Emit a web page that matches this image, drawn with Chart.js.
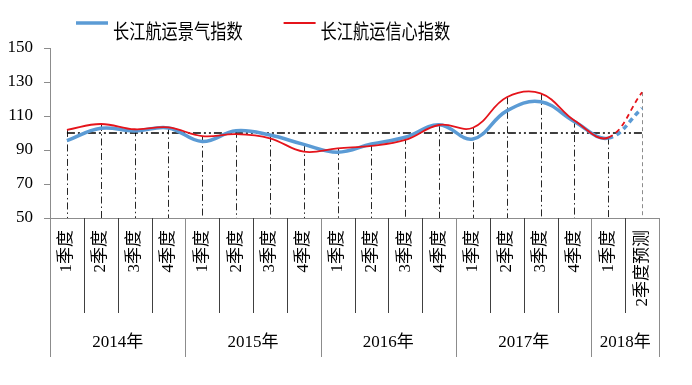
<!DOCTYPE html>
<html>
<head>
<meta charset="utf-8">
<script src="https://cdn.jsdelivr.net/npm/chart.js@4"></script>
<style>
  body { margin: 0; background: #fff; }
  #kutu { position: relative; width: 692px; height: 385px; }
</style>
</head>
<body>
<div id="kutu"><canvas id="grafik"></canvas></div>
<script>
// ── DATA ──
const quarters = [
  '1季度', '2季度', '3季度', '4季度',
  '1季度', '2季度', '3季度', '4季度',
  '1季度', '2季度', '3季度', '4季度',
  '1季度', '2季度', '3季度', '4季度',
  '1季度', '2季度预测'
]
const yearLabels = ['2014年', '2015年', '2016年', '2017年', '2018年']
const yearSpans = [4, 4, 4, 4, 2]
const jingqi = [95.5, 102.8, 101.2, 103, 95, 101.3, 98.8, 93.3, 88.7, 93.5, 97.5, 104.8, 96.5, 113, 118.4, 106.7, 97, 114.5]
const xinxin = [101.8, 105.3, 102.2, 103.3, 98.2, 99.3, 96.9, 89, 91, 92.4, 95.9, 104.7, 103.1, 121, 123.3, 107.3, 97.3, 124]
const baseLine = 100

const serif = "'Liberation Serif', 'Noto Sans CJK SC', serif"
const sonIdx = quarters.length - 1

// ── Noktadan eksene kesikli çizgiler + 100 çizgisi ──
const refLines = {
  id: 'refLines',
  beforeDatasetsDraw(chart) {
    const { ctx, scales: { x, y } } = chart
    ctx.save()
    ctx.lineWidth = 1
    quarters.forEach((q, i) => {
      const top = Math.max(jingqi[i], xinxin[i])
      const px = Math.round(x.getPixelForValue(i)) + 0.5
      const last = i === sonIdx
      ctx.strokeStyle = last ? '#8c8c8c' : '#262626'
      ctx.setLineDash(last ? [4, 3] : [7, 3, 1.5, 3])
      ctx.beginPath()
      ctx.moveTo(px, y.getPixelForValue(top))
      ctx.lineTo(px, y.bottom)
      ctx.stroke()
    })
    const py = Math.round(y.getPixelForValue(baseLine))
    ctx.strokeStyle = '#000'
    ctx.lineWidth = 1.5
    ctx.setLineDash([8, 3, 2, 3, 2, 3])
    ctx.beginPath()
    ctx.moveTo(x.getPixelForValue(0), py)
    ctx.lineTo(x.getPixelForValue(sonIdx), py)
    ctx.stroke()
    ctx.restore()
  }
}

// ── Yıl grupları (alt eksen) ──
const yearAxis = {
  id: 'yearAxis',
  afterDraw(chart) {
    const { ctx, scales: { x, y } } = chart
    const inner = y.bottom + 95
    const outer = y.bottom + 139
    const bounds = [0]
    yearSpans.forEach(s => bounds.push(bounds[bounds.length - 1] + s))
    ctx.save()
    ctx.lineWidth = 1
    for (let i = 0; i <= quarters.length; i++) {
      const px = Math.round(x.getPixelForValue(i - 0.5)) + 0.5
      const isYear = bounds.includes(i)
      ctx.strokeStyle = isYear ? '#8c8c8c' : '#404040'
      ctx.beginPath()
      ctx.moveTo(px, y.bottom)
      ctx.lineTo(px, isYear ? outer : inner)
      ctx.stroke()
    }
    ctx.fillStyle = '#000'
    ctx.font = '17px ' + serif
    ctx.textAlign = 'center'
    ctx.textBaseline = 'middle'
    yearLabels.forEach((t, k) => {
      const mid = (bounds[k] + bounds[k + 1] - 1) / 2
      ctx.fillText(t, x.getPixelForValue(mid), y.bottom + 125)
    })
    ctx.restore()
  }
}

// ── Çizgi lejantı (dar yazı) ──
const lineLegend = {
  id: 'lineLegend',
  afterDraw(chart) {
    const { ctx } = chart
    const sx = 0.81
    let px = 76
    chart.data.datasets.forEach(ds => {
      ctx.save()
      ctx.strokeStyle = ds.borderColor
      ctx.lineWidth = ds.borderWidth
      ctx.beginPath()
      ctx.moveTo(px, 23)
      ctx.lineTo(px + 32, 23)
      ctx.stroke()
      ctx.font = '20px "Noto Sans CJK SC"'
      ctx.textBaseline = 'middle'
      ctx.fillStyle = '#000'
      ctx.translate(px + 37, 31)
      ctx.scale(sx, 1)
      ctx.fillText(ds.label, 0, 0)
      const w = ctx.measureText(ds.label).width * sx
      ctx.restore()
      px += 37 + w + 41
    })
  }
}

const tahmin = c => c.p1DataIndex === sonIdx ? [5, 4] : undefined

new Chart(document.getElementById('grafik'), {
  type: 'line',
  data: {
    labels: quarters,
    datasets: [
      {
        label: '长江航运景气指数',
        data: jingqi,
        borderColor: '#5b9bd5',
        borderWidth: 3.5,
        tension: 0.4,
        pointRadius: 0,
        order: 1,
        segment: { borderDash: tahmin }
      },
      {
        label: '长江航运信心指数',
        data: xinxin,
        borderColor: '#e5141b',
        borderWidth: 1.8,
        tension: 0.4,
        pointRadius: 0,
        order: 0,
        segment: { borderDash: tahmin }
      }
    ]
  },
  options: {
    responsive: true,
    maintainAspectRatio: false,
    animation: false,
    layout: { padding: { top: 48, right: 33, left: 0, bottom: 0 } },
    plugins: { legend: { display: false }, tooltip: { enabled: false } },
    scales: {
      x: {
        offset: true,
        grid: { display: false, drawTicks: false },
        border: { color: '#8c8c8c' },
        ticks: {
          autoSkip: false, minRotation: 90, maxRotation: 90, padding: 12,
          color: '#000', font: { family: serif, size: 17 }
        },
        afterFit(s) { s.height = 167 }
      },
      y: {
        min: 50,
        max: 150,
        ticks: { stepSize: 20, padding: 11, color: '#000', font: { family: serif, size: 17 } },
        grid: { drawOnChartArea: false, tickLength: 6, color: '#8c8c8c' },
        border: { color: '#8c8c8c' },
        afterFit(s) { s.width = 50 }
      }
    }
  },
  plugins: [refLines, yearAxis, lineLegend]
})
</script>
</body>
</html>
